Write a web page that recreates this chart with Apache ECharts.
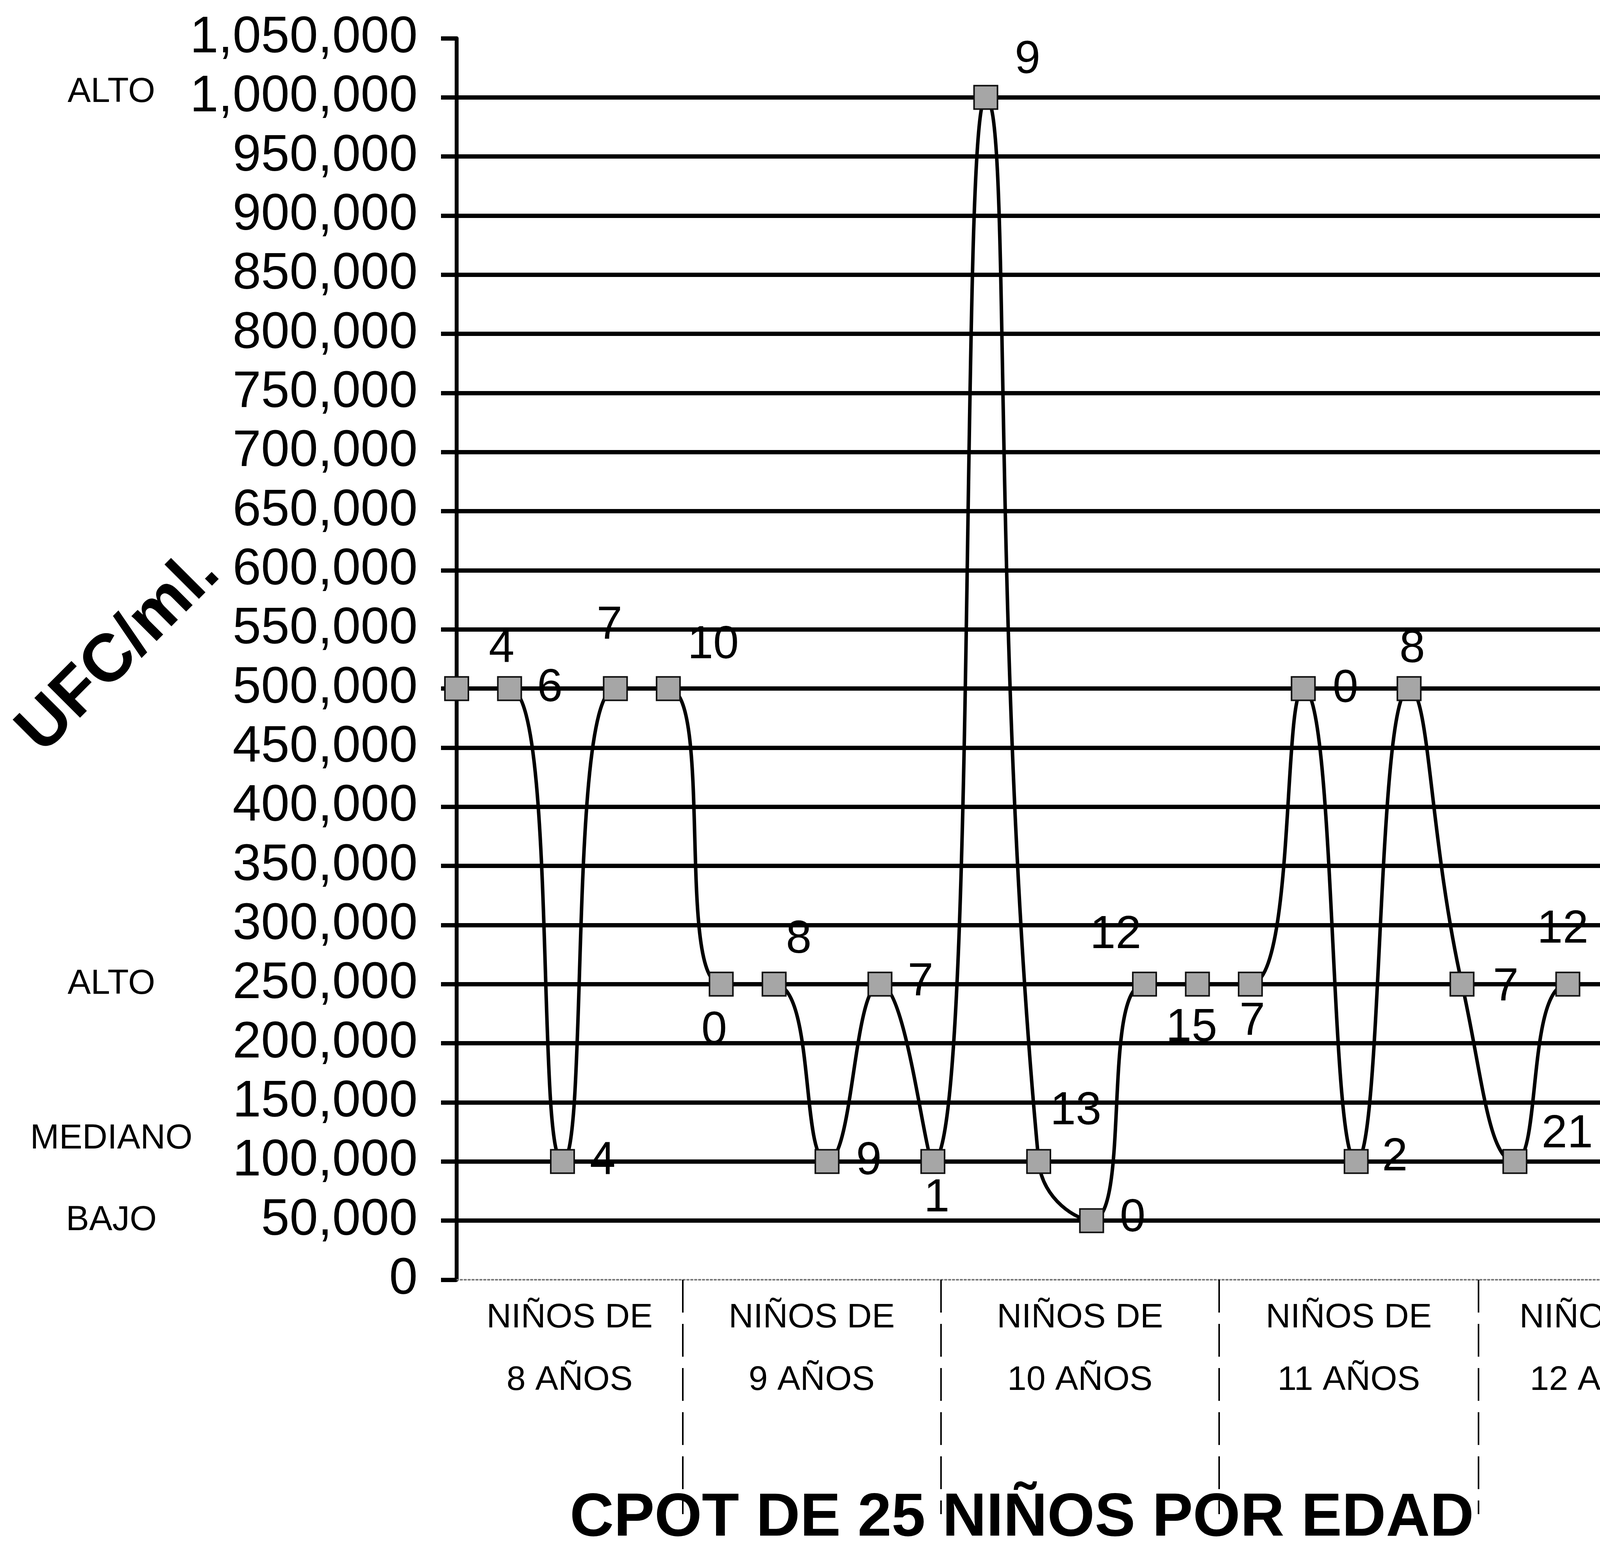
<!DOCTYPE html>
<html>
<head>
<meta charset="utf-8">
<script src="https://cdn.jsdelivr.net/npm/echarts@6/dist/echarts.min.js"></script>
<style>
html,body{margin:0;padding:0;background:#fff;}
#chart{width:4573px;height:3955px;}
</style>
</head>
<body>
<div id="chart"></div>
<script>
// ---- data ----
const children = ['1','2','3','4','5','6','7','8','9','10','11','12','13','14','15','16','17','18','19','20','21','22','23','24','25'];
const ufcValues = [500000, 500000, 100000, 500000, 500000,
                   250000, 250000, 100000, 250000, 100000,
                   1000000, 100000, 50000, 250000, 250000,
                   250000, 500000, 100000, 500000, 250000,
                   100000, 250000, 250000, 500000, 100000];
const childCounts = ['4','6','4','7','10','0','8','9','7','1','9','13','0','12','15','7','0','2','8','7','21','12','0','4','3'];
const gridValues = [50000,100000,150000,200000,250000,300000,350000,400000,450000,500000,
                    550000,600000,650000,700000,750000,800000,850000,900000,950000,1000000];
const levelValues = [1000000, 250000, 100000, 50000];
const levelNames = ['ALTO', 'ALTO', 'MEDIANO', 'BAJO'];
const groupNames = ['NIÑOS DE\n8 AÑOS', 'NIÑOS DE\n9 AÑOS', 'NIÑOS DE\n10 AÑOS', 'NIÑOS DE\n11 AÑOS', 'NIÑOS DE\n12 AÑOS'];

// ---- layout / style (not data) ----
const groupBounds = [4.27, 9.15, 14.41, 19.31];
const groupEdges = [0].concat(groupBounds, [24]);
const groupCenters = groupNames.map((n, i) => (groupEdges[i] + groupEdges[i + 1]) / 2);
const labelOffsets = [[115,-100],[103,0],[103,0],[-15,-160],[115,-110],
                      [-18,120],[63,-113],[107,0],[104,-4],[10,95],
                      [107,-95],[95,-128],[105,-5],[-74,-125],[-15,113],
                      [5,97],[108,2],[99,-10],[8,-100],[112,9],
                      [134,-69],[-13,-139],[106,6],[113,5],[108,5]];
const levelRich = ['a', 'b', 'm', 'b'];

const FONT = '"Liberation Sans", Arial, Helvetica, sans-serif';
const dotted = {color: '#7a7a7a', width: 4, type: [4, 6]};

const chart = echarts.init(document.getElementById('chart'), null, {renderer: 'canvas'});
chart.setOption({
  animation: false,
  backgroundColor: '#fff',
  textStyle: {fontFamily: FONT, color: '#000'},
  title: {
    text: 'CPOT DE 25 NIÑOS POR EDAD',
    left: 2611, top: 3805, textAlign: 'center',
    textStyle: {fontFamily: FONT, fontSize: 156, fontWeight: 'bold', color: '#000'}
  },
  grid: {left: 1169, right: 153, top: 98, bottom: 679},
  graphic: [{
    type: 'text', x: 305, y: 1670, rotation: Math.PI / 4, z: 10,
    style: {text: 'UFC/ml.', fontFamily: FONT, fontSize: 172, fontWeight: 'bold', fill: '#000',
            align: 'center', verticalAlign: 'middle'}
  }],
  xAxis: [
    {type: 'category', data: children, boundaryGap: false, position: 'bottom',
     axisLine: {show: true, lineStyle: dotted}, axisTick: {show: false}, axisLabel: {show: false}, splitLine: {show: false}},
    {type: 'value', min: 0, max: 24, position: 'bottom',
     axisLine: {show: false}, axisTick: {show: false}, splitLine: {show: false},
     axisLabel: {customValues: groupCenters, formatter: (v, i) => groupNames[groupCenters.indexOf(v)] || '',
                 fontFamily: FONT, fontSize: 88, lineHeight: 160, margin: 18, color: '#000', align: 'center'}},
    {type: 'value', min: 0, max: 24, position: 'bottom', offset: 66,
     axisLine: {show: false}, axisLabel: {show: false}, splitLine: {show: false},
     axisTick: {show: true, customValues: groupBounds, length: 600, lineStyle: {color: '#000', width: 4, type: [84, 29]}}},
    {type: 'category', data: children, boundaryGap: false, position: 'top',
     axisLine: {show: true, lineStyle: dotted}, axisTick: {show: false}, axisLabel: {show: false}, splitLine: {show: false}}
  ],
  yAxis: [
    {type: 'value', min: 0, max: 1050000, interval: 50000, position: 'left',
     axisLine: {show: true, lineStyle: {color: '#000', width: 10}},
     axisTick: {show: true, length: 40, lineStyle: {color: '#000', width: 11}},
     axisLabel: {fontFamily: FONT, fontSize: 131, margin: 100, color: '#000',
                 formatter: v => Number(v).toLocaleString('en-US')},
     splitLine: {show: false}},
    {type: 'value', min: 0, max: 1050000, position: 'left', offset: 884,
     axisLine: {show: false}, axisTick: {show: false}, splitLine: {show: false},
     axisLabel: {customValues: levelValues, align: 'center', margin: 0, color: '#000',
                 fontFamily: FONT, fontSize: 89,
                 formatter: v => { const i = levelValues.indexOf(v); return i < 0 ? '' : '{' + levelRich[i] + '|' + levelNames[i] + '}'; },
                 rich: {
                   a: {fontFamily: FONT, fontSize: 89, color: '#000', padding: [0, 0, 26, 0]},
                   b: {fontFamily: FONT, fontSize: 89, color: '#000'},
                   m: {fontFamily: FONT, fontSize: 89, color: '#000', padding: [0, 0, 116, 0]}
                 }}},
    {type: 'value', min: 0, max: 1050000, position: 'left',
     axisLine: {show: false}, axisLabel: {show: false},
     axisTick: {show: false, customValues: gridValues},
     splitLine: {show: true, lineStyle: {color: '#000', width: 11}}},
    {type: 'value', min: 0, max: 1050000, position: 'right',
     axisLine: {show: true, lineStyle: dotted}, axisTick: {show: false}, axisLabel: {show: false}, splitLine: {show: false}}
  ],
  series: [{
    type: 'line', xAxisIndex: 0, yAxisIndex: 0, z: 5,
    data: ufcValues.map((v, i) => ({value: v, label: {offset: labelOffsets[i]}})),
    smooth: 0.5,
    symbol: 'rect', symbolSize: 60,
    lineStyle: {color: '#000', width: 9},
    itemStyle: {color: '#a6a6a6', borderColor: '#111', borderWidth: 4},
    label: {show: true, position: 'inside', formatter: p => childCounts[p.dataIndex],
            fontFamily: FONT, fontSize: 118, color: '#000'}
  }]
});
</script>
</body>
</html>
